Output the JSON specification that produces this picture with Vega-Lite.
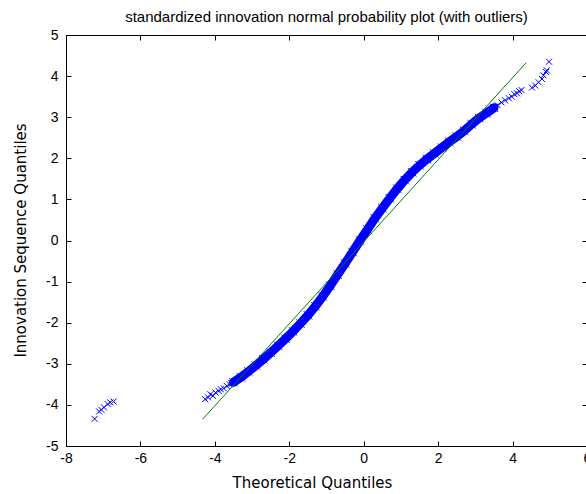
{
  "$schema": "https://vega.github.io/schema/vega-lite/v6.json",
  "width": 521,
  "height": 411,
  "autosize": {"type": "none"},
  "padding": {"left": 66, "top": 35, "right": 0, "bottom": 48},
  "background": "white",
  "title": {"text": "standardized innovation normal probability plot (with outliers)", "font": "Liberation Sans", "fontSize": 15, "fontWeight": "normal", "color": "black", "offset": 3, "anchor": "middle"},
  "config": {
    "view": {"stroke": "black", "strokeWidth": 1},
    "axis": {"grid": false, "domainColor": "black", "tickColor": "black", "labelColor": "black", "titleColor": "black", "tickSize": -5, "labelFont": "Liberation Sans", "labelFontSize": 14, "titleFont": "DejaVu Sans", "titleFontSize": 15, "titleFontWeight": "normal", "labelFlush": false, "labelOverlap": false, "labelExpr": "replace(datum.label, '\u2212', '-')"}
  },
  "datasets": {
    "ref": [{"x": -4.33, "y": -4.35}, {"x": 4.37, "y": 4.33}],
    "band": [
      {"x": -3.5, "y": -3.45}, {"x": -3.3, "y": -3.33}, {"x": -3.1, "y": -3.19}, {"x": -2.9, "y": -3.04},
      {"x": -2.7, "y": -2.89}, {"x": -2.5, "y": -2.73}, {"x": -2.3, "y": -2.56}, {"x": -2.1, "y": -2.39},
      {"x": -1.9, "y": -2.21}, {"x": -1.7, "y": -2.02}, {"x": -1.5, "y": -1.82}, {"x": -1.3, "y": -1.6},
      {"x": -1.1, "y": -1.36}, {"x": -0.9, "y": -1.1}, {"x": -0.7, "y": -0.83}, {"x": -0.5, "y": -0.56},
      {"x": -0.3, "y": -0.28}, {"x": -0.1, "y": 0.0}, {"x": 0.1, "y": 0.27}, {"x": 0.3, "y": 0.54},
      {"x": 0.5, "y": 0.79}, {"x": 0.7, "y": 1.03}, {"x": 0.9, "y": 1.26}, {"x": 1.1, "y": 1.47},
      {"x": 1.3, "y": 1.66}, {"x": 1.5, "y": 1.83}, {"x": 1.7, "y": 1.98}, {"x": 1.9, "y": 2.12},
      {"x": 2.1, "y": 2.26}, {"x": 2.3, "y": 2.4}, {"x": 2.5, "y": 2.53}, {"x": 2.7, "y": 2.67},
      {"x": 2.9, "y": 2.83}, {"x": 3.1, "y": 2.98}, {"x": 3.3, "y": 3.1}, {"x": 3.5, "y": 3.23}
    ],
    "tail": [
      {"x": -7.23, "y": -4.34}, {"x": -7.11, "y": -4.16}, {"x": -7.05, "y": -4.12}, {"x": -6.98, "y": -4.06},
      {"x": -6.88, "y": -3.98}, {"x": -6.81, "y": -3.94}, {"x": -6.72, "y": -3.92},
      {"x": -4.26, "y": -3.86}, {"x": -4.18, "y": -3.82}, {"x": -4.12, "y": -3.74}, {"x": -4.05, "y": -3.78},
      {"x": -3.98, "y": -3.7}, {"x": -3.9, "y": -3.66}, {"x": -3.84, "y": -3.62}, {"x": -3.76, "y": -3.6},
      {"x": -3.68, "y": -3.54}, {"x": -3.6, "y": -3.5}, {"x": -3.55, "y": -3.47},
      {"x": 3.6, "y": 3.29}, {"x": 3.7, "y": 3.36}, {"x": 3.8, "y": 3.41}, {"x": 3.9, "y": 3.46},
      {"x": 3.98, "y": 3.5}, {"x": 4.05, "y": 3.56}, {"x": 4.12, "y": 3.58}, {"x": 4.18, "y": 3.63},
      {"x": 4.24, "y": 3.66},
      {"x": 4.52, "y": 3.72}, {"x": 4.61, "y": 3.77}, {"x": 4.7, "y": 3.85}, {"x": 4.79, "y": 3.93},
      {"x": 4.83, "y": 4.02}, {"x": 4.9, "y": 4.1}, {"x": 4.92, "y": 4.14}, {"x": 4.98, "y": 4.35}
    ]
  },
  "layer": [
    {
      "data": {"name": "band"},
      "mark": {"type": "line", "color": "#0000ff", "strokeWidth": 9, "strokeCap": "round", "clip": true},
      "encoding": {
        "x": {"field": "x", "type": "quantitative", "scale": {"domain": [-8, 6], "nice": false, "zero": false},
              "axis": {"orient": "top", "values": [-8, -6, -4, -2, 0, 2, 4, 6], "labels": false, "title": null}},
        "y": {"field": "y", "type": "quantitative", "scale": {"domain": [-5, 5], "nice": false, "zero": false},
              "axis": {"orient": "right", "values": [-5, -4, -3, -2, -1, 0, 1, 2, 3, 4, 5], "labels": false, "title": null}}
      }
    },
    {
      "data": {"name": "band"},
      "mark": {"type": "point", "shape": "M-1,-1L1,1M-1,1L1,-1", "filled": false, "color": "#0000ff", "strokeWidth": 1, "size": 70, "opacity": 1},
      "encoding": {
        "x": {"field": "x", "type": "quantitative", "axis": null},
        "y": {"field": "y", "type": "quantitative", "axis": null}
      }
    },
    {
      "data": {"name": "tail"},
      "mark": {"type": "point", "shape": "M-1,-1L1,1M-1,1L1,-1", "filled": false, "color": "#0000ff", "strokeWidth": 1, "size": 36, "opacity": 1},
      "encoding": {
        "x": {"field": "x", "type": "quantitative", "axis": null},
        "y": {"field": "y", "type": "quantitative", "axis": null}
      }
    },
    {
      "data": {"name": "ref"},
      "mark": {"type": "line", "color": "#008000", "strokeWidth": 1},
      "encoding": {
        "x": {"field": "x", "type": "quantitative",
              "axis": {"orient": "bottom", "values": [-8, -6, -4, -2, 0, 2, 4, 6], "labelPadding": 10, "labelBaseline": "top", "title": "Theoretical Quantiles", "titleX": 246, "titleY": 36, "titleBaseline": "middle", "titleAnchor": null}},
        "y": {"field": "y", "type": "quantitative",
              "axis": {"orient": "left", "values": [-5, -4, -3, -2, -1, 0, 1, 2, 3, 4, 5], "labelPadding": 13, "labelBaseline": "middle", "title": "Innovation Sequence Quantiles", "titleX": -46, "titleY": 205, "titleAngle": -90, "titleBaseline": "middle", "titleAnchor": null}}
      }
    }
  ]
}
